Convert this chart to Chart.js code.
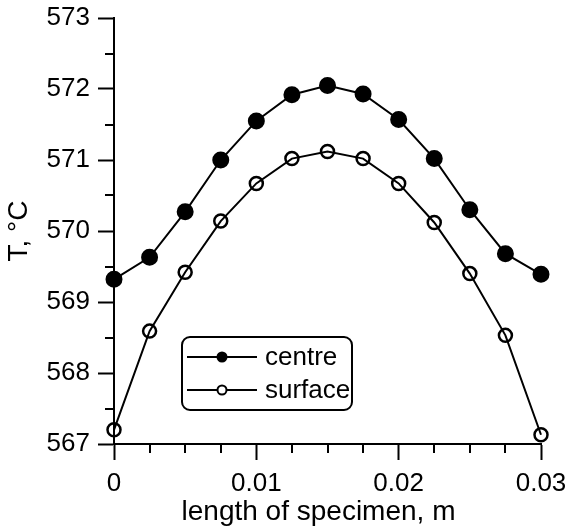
<!DOCTYPE html>
<html>
<head>
<meta charset="utf-8">
<script src="https://cdn.jsdelivr.net/npm/chart.js@4/dist/chart.umd.min.js"></script>
<style>
  html, body { margin: 0; padding: 0; background: #fff; }
  #wrap { width: 565px; height: 531px; }
</style>
</head>
<body>
<div id="wrap"><canvas id="myChart"></canvas></div>
<script>
// values
const lengths = [0, 0.0025, 0.005, 0.0075, 0.01, 0.0125, 0.015, 0.0175, 0.02, 0.0225, 0.025, 0.0275, 0.03]
const centreTemps = [569.32, 569.63, 570.27, 571.0, 571.55, 571.92, 572.05, 571.93, 571.57, 571.02, 570.3, 569.68, 569.39]
const surfaceTemps = [567.2, 568.59, 569.42, 570.14, 570.67, 571.02, 571.12, 571.02, 570.67, 570.12, 569.4, 568.53, 567.13]
const xTicks = [0, 0.01, 0.02, 0.03]
const yTicks = [567, 568, 569, 570, 571, 572, 573]
const seriesNames = ['centre', 'surface']
const xTitle = 'length of specimen, m'

const FONT = '"Liberation Sans", Arial, sans-serif'

function isMajor(list, v) {
    return list.some(t => Math.abs(t - v) < 1e-9)
}

function toPoints(ys) {
    return lengths.map((x, i) => ({x: x, y: ys[i]}))
}

// short minor ticks + boxed legend + x title (sits a bit left of centre in the original)
const extras = {
    id: 'extras',
    afterDraw(chart) {
        const ctx = chart.ctx
        const area = chart.chartArea
        const xs = chart.scales.x
        const ys = chart.scales.y
        ctx.save()
        ctx.strokeStyle = '#000'
        ctx.lineWidth = 2
        ctx.beginPath()
        xs.ticks.forEach(t => {
            if (isMajor(xTicks, t.value)) return
            const px = Math.round(xs.getPixelForValue(t.value))
            ctx.moveTo(px, area.bottom)
            ctx.lineTo(px, area.bottom + 9)
        })
        ys.ticks.forEach(t => {
            if (isMajor(yTicks, t.value)) return
            const py = Math.round(ys.getPixelForValue(t.value))
            ctx.moveTo(area.left, py)
            ctx.lineTo(area.left - 9, py)
        })
        ctx.stroke()

        ctx.fillStyle = '#000'
        ctx.font = '28px ' + FONT
        ctx.textAlign = 'center'
        ctx.textBaseline = 'middle'
        ctx.fillText(xTitle, (area.left + area.right) / 2 - 9, xs.bottom - 19)

        // legend box
        const bx = area.left + 68, by = area.top + 319, bw = 170, bh = 73, r = 8
        ctx.lineWidth = 2
        ctx.beginPath()
        ctx.moveTo(bx + r, by)
        ctx.lineTo(bx + bw - r, by)
        ctx.arcTo(bx + bw, by, bx + bw, by + r, r)
        ctx.lineTo(bx + bw, by + bh - r)
        ctx.arcTo(bx + bw, by + bh, bx + bw - r, by + bh, r)
        ctx.lineTo(bx + r, by + bh)
        ctx.arcTo(bx, by + bh, bx, by + bh - r, r)
        ctx.lineTo(bx, by + r)
        ctx.arcTo(bx, by, bx + r, by, r)
        ctx.closePath()
        ctx.stroke()

        ctx.font = '26px ' + FONT
        ctx.textAlign = 'left'
        seriesNames.forEach((name, i) => {
            const cy = by + 20 + i * 33
            ctx.beginPath()
            ctx.moveTo(bx + 5, cy)
            ctx.lineTo(bx + 75, cy)
            ctx.lineWidth = 2
            ctx.stroke()
            ctx.beginPath()
            ctx.arc(bx + 40, cy, i === 0 ? 5.5 : 4.5, 0, Math.PI * 2)
            if (i === 0) {
                ctx.fill()
            } else {
                ctx.fillStyle = '#fff'
                ctx.fill()
                ctx.stroke()
                ctx.fillStyle = '#000'
            }
            ctx.fillText(name, bx + 83, cy + 1)
        })
        ctx.restore()
    }
}

const chart = new Chart(document.getElementById('myChart').getContext('2d'), {
    type: 'line',
    data: {
        datasets: [{
            label: seriesNames[0],
            data: toPoints(centreTemps),
            borderColor: '#000',
            borderWidth: 2,
            backgroundColor: '#000',
            pointRadius: 7.5,
            pointBorderWidth: 2,
            pointBackgroundColor: '#000',
            pointBorderColor: '#000',
            tension: 0,
            clip: false
        }, {
            label: seriesNames[1],
            data: toPoints(surfaceTemps),
            borderColor: '#000',
            borderWidth: 2,
            backgroundColor: 'rgba(0,0,0,0)',
            pointRadius: 6.5,
            pointBorderWidth: 2.5,
            pointBackgroundColor: 'rgba(0,0,0,0)',
            pointBorderColor: '#000',
            tension: 0,
            clip: false
        }]
    },
    options: {
        responsive: true,
        maintainAspectRatio: false,
        animation: false,
        layout: {padding: {left: 0, right: 24, top: 18, bottom: 0}},
        plugins: {
            legend: {display: false},
            tooltip: {enabled: false}
        },
        scales: {
            x: {
                type: 'linear',
                min: 0,
                max: 0.03,
                afterFit(scale) {
                    scale.height = 87
                    scale.paddingLeft = 0
                    scale.paddingRight = 0
                },
                border: {display: true, color: '#000', width: 2},
                grid: {
                    drawOnChartArea: false,
                    drawTicks: true,
                    tickLength: 16,
                    tickWidth: 2,
                    tickColor: c => isMajor(xTicks, c.tick.value) ? '#000' : 'rgba(0,0,0,0)'
                },
                ticks: {
                    stepSize: 0.0025,
                    autoSkip: false,
                    maxRotation: 0,
                    padding: 8,
                    color: '#000',
                    font: {family: FONT, size: 26},
                    callback: v => isMajor(xTicks, v) ? String(xTicks.find(t => Math.abs(t - v) < 1e-9)) : ''
                },
                title: {display: false}
            },
            y: {
                min: 567,
                max: 573,
                afterFit(scale) {
                    scale.width = 114
                    scale.paddingTop = 0
                    scale.paddingBottom = 0
                },
                border: {display: true, color: '#000', width: 2},
                grid: {
                    drawOnChartArea: false,
                    drawTicks: true,
                    tickLength: 16,
                    tickWidth: 2,
                    tickColor: c => isMajor(yTicks, c.tick.value) ? '#000' : 'rgba(0,0,0,0)'
                },
                ticks: {
                    stepSize: 0.5,
                    autoSkip: false,
                    padding: 8,
                    color: '#000',
                    font: {family: FONT, size: 26},
                    callback: v => isMajor(yTicks, v) ? String(v) : ''
                },
                title: {
                    display: true,
                    text: 'T, \u00B0C',
                    color: '#000',
                    font: {family: FONT, size: 28},
                    padding: {top: 2, bottom: 0}
                }
            }
        }
    },
    plugins: [extras]
})
</script>
</body>
</html>
